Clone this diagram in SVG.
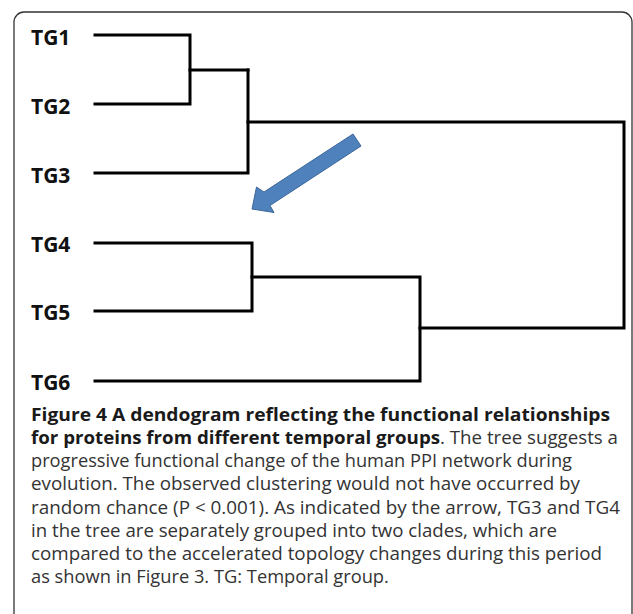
<svg xmlns="http://www.w3.org/2000/svg" width="633" height="614" viewBox="0 0 633 614">
<style>
.lbl{font-family:"Open Sans","Liberation Sans",sans-serif;font-weight:700;font-size:21px;fill:#111}
.tree{fill:none;stroke:#000;stroke-width:3;stroke-linejoin:miter;stroke-linecap:square}
.cap{font-family:"Open Sans","Liberation Sans",sans-serif;font-size:18.3px;fill:#333}
.b{font-weight:700;fill:#1a1a1a}
.arrow{fill:#4F81BD;stroke:#3C6797;stroke-width:1}
</style>
<rect x="0" y="0" width="633" height="614" fill="#fff"/>
<rect x="14" y="12" width="618" height="660" rx="10" ry="10" fill="none" stroke="#333" stroke-width="1.3"/>
<g id="connectors">
<path class="tree" d="M95 35 H190 V104 H95"/>
<path class="tree" d="M190 70 H248"/>
<path class="tree" d="M95 173 H248 V70"/>
<path class="tree" d="M248 122 H624 V328 H420"/>
<path class="tree" d="M95 243 H252 V311 H95"/>
<path class="tree" d="M252 277 H420 V381 H95"/>
</g>
<g id="TG1"><text class="lbl" x="31" y="45">TG1</text></g>
<g id="TG2"><text class="lbl" x="31" y="114">TG2</text></g>
<g id="TG3"><text class="lbl" x="31" y="183">TG3</text></g>
<g id="TG4"><text class="lbl" x="31" y="252">TG4</text></g>
<g id="TG5"><text class="lbl" x="31" y="320">TG5</text></g>
<g id="TG6"><text class="lbl" x="31" y="390">TG6</text></g>
<g id="arrow"><polygon class="arrow" points="353,134 264,192 256.5,187 252,209 274,212.5 270,205.5 361,146"/></g>
<g id="caption">
<text class="cap b" x="31" y="421" textLength="579" lengthAdjust="spacingAndGlyphs">Figure 4 A dendogram reflecting the functional relationships</text>
<text class="cap" x="31" y="444" textLength="587" lengthAdjust="spacingAndGlyphs"><tspan class="b">for proteins from different temporal groups</tspan>. The tree suggests a</text>
<text class="cap" x="31" y="467" textLength="541" lengthAdjust="spacingAndGlyphs">progressive functional change of the human PPI network during</text>
<text class="cap" x="31" y="490" textLength="549" lengthAdjust="spacingAndGlyphs">evolution. The observed clustering would not have occurred by</text>
<text class="cap" x="31" y="514" textLength="589" lengthAdjust="spacingAndGlyphs">random chance (P &lt; 0.001). As indicated by the arrow, TG3 and TG4</text>
<text class="cap" x="31" y="537" textLength="526" lengthAdjust="spacingAndGlyphs">in the tree are separately grouped into two clades, which are</text>
<text class="cap" x="31" y="560" textLength="571" lengthAdjust="spacingAndGlyphs">compared to the accelerated topology changes during this period</text>
<text class="cap" x="31" y="583">as shown in Figure 3. TG: Temporal group.</text>
</g>
</svg>
